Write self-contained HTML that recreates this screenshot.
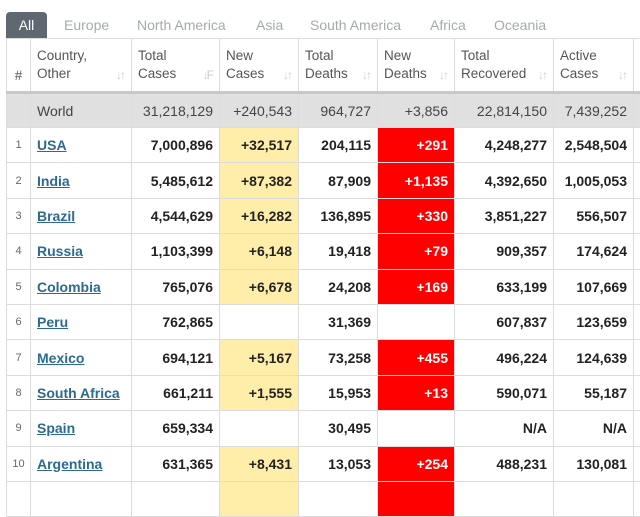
<!DOCTYPE html>
<html><head><meta charset="utf-8"><style>
body{margin:0;width:640px;height:488px;overflow:hidden;background:#fff;font-family:"Liberation Sans","Noto Sans CJK KR",sans-serif;position:relative}
.tabs{position:absolute;left:6px;top:12px;height:26px;font-size:14px;color:#a5aab0;}
.tabs span{position:absolute;top:0;height:26px;line-height:26px;white-space:nowrap}
.tabs .all{background:#5f6870;color:#fff;border-radius:4px 4px 0 0;width:41px;text-align:center;left:0}
table{position:absolute;left:6px;top:38px;width:650px;border-collapse:collapse;table-layout:fixed;font-size:14px}
td,th{border:1px solid #dcdcdc;padding:0 6px;overflow:hidden;white-space:nowrap;line-height:16px}
th{height:46px;font-weight:normal;text-align:left;color:#555;font-size:13.5px;line-height:18px;position:relative;border-bottom:3px solid #c8c8c8}
th .s{position:absolute;right:7px;bottom:7px;color:#ccc;font-size:12px;letter-spacing:-2px}
td{height:34.4px;text-align:right;font-weight:bold;color:#222}
tr.w td{background:#e0e0e0;font-weight:normal;color:#444;height:33px}
td.n{text-align:center;font-weight:normal;color:#666;font-size:11px;padding:0}
td.c{text-align:left}
td.c a{color:#2c6a91;text-decoration:underline}
td.y{background:#ffeeaa}
td.r{background:#f00;color:#fff}
</style></head><body>
<div class="tabs"><span class="all">All</span><span style="left:58px">Europe</span><span style="left:131px">North America</span><span style="left:250px">Asia</span><span style="left:304px">South America</span><span style="left:424px">Africa</span><span style="left:488px">Oceania</span></div>
<table>
<colgroup><col style="width:24px"><col style="width:101px"><col style="width:88px"><col style="width:79px"><col style="width:79px"><col style="width:77px"><col style="width:99px"><col style="width:80px"><col style="width:23px"></colgroup>
<tr><th style="text-align:center;padding:0;vertical-align:bottom;padding-bottom:6px">#</th><th>Country,<br>Other<span class="s">↓↑</span></th><th>Total<br>Cases<span class="s">↓F</span></th><th>New<br>Cases<span class="s">↓↑</span></th><th>Total<br>Deaths<span class="s">↓↑</span></th><th>New<br>Deaths<span class="s">↓↑</span></th><th>Total<br>Recovered<span class="s">↓↑</span></th><th>Active<br>Cases<span class="s">↓↑</span></th><th></th></tr>
<tr class="w"><td class="n"></td><td class="c">World</td><td>31,218,129</td><td>+240,543</td><td>964,727</td><td>+3,856</td><td>22,814,150</td><td>7,439,252</td><td></td></tr>
<tr><td class="n">1</td><td class="c"><a>USA</a></td><td>7,000,896</td><td class="y">+32,517</td><td>204,115</td><td class="r">+291</td><td>4,248,277</td><td>2,548,504</td><td></td></tr>
<tr><td class="n">2</td><td class="c"><a>India</a></td><td>5,485,612</td><td class="y">+87,382</td><td>87,909</td><td class="r">+1,135</td><td>4,392,650</td><td>1,005,053</td><td></td></tr>
<tr><td class="n">3</td><td class="c"><a>Brazil</a></td><td>4,544,629</td><td class="y">+16,282</td><td>136,895</td><td class="r">+330</td><td>3,851,227</td><td>556,507</td><td></td></tr>
<tr><td class="n">4</td><td class="c"><a>Russia</a></td><td>1,103,399</td><td class="y">+6,148</td><td>19,418</td><td class="r">+79</td><td>909,357</td><td>174,624</td><td></td></tr>
<tr><td class="n">5</td><td class="c"><a>Colombia</a></td><td>765,076</td><td class="y">+6,678</td><td>24,208</td><td class="r">+169</td><td>633,199</td><td>107,669</td><td></td></tr>
<tr><td class="n">6</td><td class="c"><a>Peru</a></td><td>762,865</td><td></td><td>31,369</td><td></td><td>607,837</td><td>123,659</td><td></td></tr>
<tr><td class="n">7</td><td class="c"><a>Mexico</a></td><td>694,121</td><td class="y">+5,167</td><td>73,258</td><td class="r">+455</td><td>496,224</td><td>124,639</td><td></td></tr>
<tr><td class="n">8</td><td class="c"><a>South Africa</a></td><td>661,211</td><td class="y">+1,555</td><td>15,953</td><td class="r">+13</td><td>590,071</td><td>55,187</td><td></td></tr>
<tr><td class="n">9</td><td class="c"><a>Spain</a></td><td>659,334</td><td></td><td>30,495</td><td></td><td>N/A</td><td>N/A</td><td></td></tr>
<tr><td class="n">10</td><td class="c"><a>Argentina</a></td><td>631,365</td><td class="y">+8,431</td><td>13,053</td><td class="r">+254</td><td>488,231</td><td>130,081</td><td></td></tr>
<tr><td class="n"></td><td></td><td></td><td class="y"></td><td></td><td class="r"></td><td></td><td></td><td></td></tr>
</table>
</body></html>
